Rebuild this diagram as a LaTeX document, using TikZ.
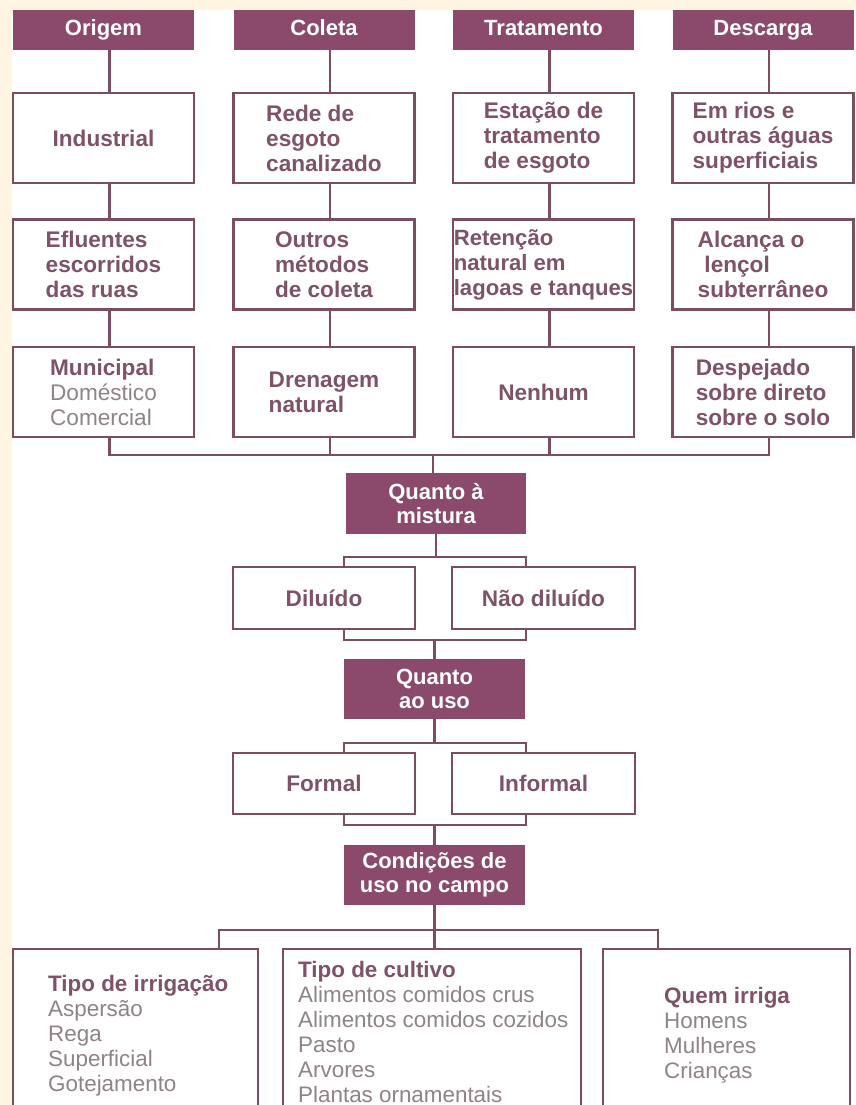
\documentclass[tikz,border=0pt]{standalone}
\usepackage{fontspec}
\setmainfont{Liberation Sans}
\definecolor{cream}{HTML}{FFF5E1}
\definecolor{plum}{HTML}{8B4A6B}
\definecolor{linec}{HTML}{7B4C62}
\definecolor{boldtxt}{HTML}{7E5268}
\definecolor{graytxt}{HTML}{8F8389}
\tikzset{
  hdr/.style={rectangle, fill=plum, text=white, font=\fontsize{22}{24.5}\selectfont\bfseries,
    minimum width=181, minimum height=40, inner sep=0, align=center},
  hdrone/.style={text height=15.5, text depth=4.5},
  wbox/.style={rectangle, draw=linec, line width=2.5, fill=white, text=boldtxt,
    font=\fontsize{22.6}{25}\selectfont\bfseries, minimum width=181, minimum height=90, inner sep=0, align=left},
  pbox/.style={rectangle, draw=linec, line width=2.5, fill=white, inner sep=0},
  listtxt/.style={anchor=north west, inner sep=0, align=left, text=graytxt,
    font=\fontsize{22.4}{25}\selectfont},
  conn/.style={draw=linec, line width=2.2}
}
\newcommand{\gr}[1]{{\mdseries\color{graytxt}#1}}
\newcommand{\bd}[1]{{\bfseries\color{boldtxt}#1}}
\begin{document}
\begin{tikzpicture}[x=1pt,y=-1pt]
\useasboundingbox (0,0) rectangle (856,1105);
\clip (0,0) rectangle (856,1105);
\fill[cream] (0,0) rectangle (856,1105);
\fill[white] (12,10) rectangle (856,1105);

% headers
\node[hdr, hdrone] (h1) at (103.5,30) {Origem};
\node[hdr, hdrone] (h2) at (324,30) {Coleta};
\node[hdr, hdrone] (h3) at (543.5,30) {Tratamento};
\node[hdr, hdrone] (h4) at (763,30) {Descarga};

% row 1
\node[wbox] (a1) at (103.5,138) {Industrial};
\node[wbox] (a2) at (324,138) {Rede de\\esgoto\\canalizado};
\node[wbox] (a3) at (543.5,138) {Estação de\\tratamento\\de esgoto};
\node[wbox] (a4) at (763,138) {Em rios e\\outras águas\\superficiais};

% row 2
\node[wbox] (b1) at (103.5,264.5) {Efluentes\\escorridos\\das ruas};
\node[wbox] (b2) at (324,264.5) {Outros\\métodos\\de coleta};
\node[wbox, font=\fontsize{22.1}{25}\selectfont\bfseries] (b3) at (543.5,264.5) {Retenção\\natural em\\lagoas e tanques};
\node[wbox] (b4) at (763,264.5) {Alcança o\\\hspace{0.3em}lençol\\subterrâneo};

% row 3
\node[wbox] (c1) at (103.5,392) {Municipal\\\gr{Doméstico}\\\gr{Comercial}};
\node[wbox] (c2) at (324,392) {Drenagem\\natural};
\node[wbox] (c3) at (543.5,392) {Nenhum};
\node[wbox] (c4) at (763,392) {Despejado\\sobre direto\\sobre o solo};

% middle chain
\node[hdr, minimum width=180, minimum height=61] (mix) at (436,503.5) {Quanto à\\mistura};
\node[wbox, minimum width=182, minimum height=62, align=center] (dil) at (324,598) {Diluído};
\node[wbox, minimum width=183, minimum height=62, align=center] (ndil) at (543.5,598) {Não diluído};
\node[hdr, minimum width=181, minimum height=60] (uso) at (434.5,689) {Quanto\\ao uso};
\node[wbox, minimum width=182, minimum height=61, align=center] (formal) at (324,783.5) {Formal};
\node[wbox, minimum width=183, minimum height=61, align=center] (informal) at (543.5,783.5) {Informal};
\node[hdr, minimum width=181, minimum height=60] (cond) at (434.5,875) {Condições de\\uso no campo};

% bottom boxes
\node[pbox, minimum width=245, minimum height=200] (p1) at (135.5,1049) {};
\node[pbox, minimum width=298, minimum height=200] (p2) at (432,1049) {};
\node[pbox, minimum width=247, minimum height=200] (p3) at (726.5,1049) {};

\node[listtxt] (t1) at (48,975) {\bd{Tipo de irrigação}\\Aspersão\\Rega\\Superficial\\Gotejamento};
\node[listtxt] (t2) at (298,961) {\bd{Tipo de cultivo}\\Alimentos comidos crus\\Alimentos comidos cozidos\\Pasto\\Arvores\\Plantas ornamentais};
\node[listtxt] (t3) at (664,987) {\bd{Quem irriga}\\Homens\\Mulheres\\Crianças};

% coordinates for brackets
\coordinate (j) at (433,455);
\coordinate (m1) at (344,557);
\coordinate (m2) at (526,557);
\coordinate (m3) at (344,640);
\coordinate (m4) at (526,640);
\coordinate (f1) at (344,743);
\coordinate (f2) at (526,743);
\coordinate (f3) at (344,825);
\coordinate (f4) at (526,825);
\coordinate (g1) at (219,930);
\coordinate (g2) at (658,930);

% column connectors
\foreach \i in {1,2,3,4}{
  \draw[conn] ([xshift=6]h\i.south) -- ([xshift=6]a\i.north);
  \draw[conn] ([xshift=6]a\i.south) -- ([xshift=6]b\i.north);
  \draw[conn] ([xshift=6]b\i.south) -- ([xshift=6]c\i.north);
}
\draw[conn] ([xshift=6]c1.south) |- (j) -| ([xshift=6]c4.south);
\draw[conn] ([xshift=6]c2.south) |- (j);
\draw[conn] ([xshift=6]c3.south) |- (j);
\draw[conn] (j) -- (j |- mix.north);

\draw[conn] (mix.south) -- (mix.south |- m1);
\draw[conn] (dil.north -| m1) |- (m2) -- (ndil.north -| m2);
\draw[conn] (dil.south -| m3) |- (m4) -- (ndil.south -| m4);
\draw[conn] (uso.north) -- (uso.north |- m3);

\draw[conn] (uso.south) -- (uso.south |- f1);
\draw[conn] (formal.north -| f1) |- (f2) -- (informal.north -| f2);
\draw[conn] (formal.south -| f3) |- (f4) -- (informal.south -| f4);
\draw[conn] (cond.north) -- (cond.north |- f3);

\draw[conn] (cond.south) -- (cond.south |- p2.north);
\draw[conn] (p1.north -| g1) |- (g2) -- (p3.north -| g2);
\end{tikzpicture}
\end{document}
